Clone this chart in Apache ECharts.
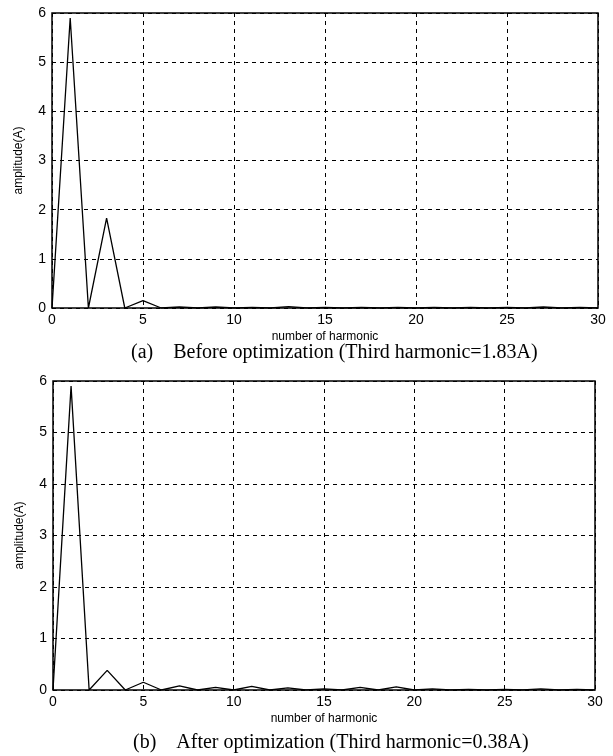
<!DOCTYPE html>
<html>
<head>
<meta charset="utf-8">
<script src="https://cdn.jsdelivr.net/npm/echarts@6/dist/echarts.min.js"></script>
<style>
html, body { margin: 0; padding: 0; background: #fff; }
#main { width: 613px; height: 756px; }
</style>
</head>
<body>
<div id="main"></div>
<script>
let harmonics = [];
for (let i = 0; i <= 30; i++) harmonics.push(i);

// amplitude of each harmonic, before optimization
let before = [0, 5.9, 0, 1.83, 0, 0.15, 0, 0.02, 0, 0.02, 0, 0.01, 0, 0.03, 0, 0.01,
    0, 0.01, 0, 0.01, 0, 0.01, 0, 0.01, 0, 0.01, 0, 0.02, 0, 0.01, 0];
// amplitude of each harmonic, after optimization
let after = [0, 5.9, 0, 0.38, 0, 0.15, 0, 0.08, 0, 0.05, 0, 0.07, 0, 0.04, 0, 0.02,
    0, 0.05, 0, 0.06, 0, 0.02, 0, 0.01, 0, 0.01, 0, 0.02, 0, 0.01, 0];

let xTicks = [0, 5, 10, 15, 20, 25, 30];
let yTicks = [0, 1, 2, 3, 4, 5, 6];
let captions = [
    '(a)    Before optimization (Third harmonic=1.83A)',
    '(b)    After optimization (Third harmonic=0.38A)'
];

function pairs(vals) {
    return harmonics.map(function (h, i) { return [h, vals[i]]; });
}

let myChart = echarts.init(document.getElementById('main'));

let gridLine = { show: true, lineStyle: { color: '#000', type: [4, 4], width: 1 } };
let label = { color: '#000', fontFamily: 'Liberation Sans', fontSize: 14 };

function xAxisOf(idx) {
    return {
        type: 'value', gridIndex: idx, min: xTicks[0], max: xTicks[xTicks.length - 1], interval: 5,
        name: 'number of harmonic', nameLocation: 'middle', nameGap: 23,
        nameTextStyle: { color: '#000', fontFamily: 'Liberation Sans', fontSize: 12 },
        axisLine: { show: false }, axisTick: { show: false },
        axisLabel: Object.assign({ margin: 5 }, label),
        splitLine: gridLine
    };
}
function yAxisOf(idx) {
    return {
        type: 'value', gridIndex: idx, min: yTicks[0], max: yTicks[yTicks.length - 1], interval: 1,
        name: 'amplitude(A)', nameLocation: 'middle', nameGap: 27, nameRotate: 90,
        nameTextStyle: { color: '#000', fontFamily: 'Liberation Sans', fontSize: 12 },
        axisLine: { show: false }, axisTick: { show: false },
        axisLabel: Object.assign({ margin: 6 }, label),
        splitLine: gridLine
    };
}

let captionStyle = { fontFamily: 'Liberation Serif', fontWeight: 'normal', fontSize: 20, color: '#000' };

myChart.setOption({
    animation: false,
    backgroundColor: '#fff',
    title: [
        { text: captions[0], left: 126, top: 338, textStyle: captionStyle },
        { text: captions[1], left: 128, top: 728, textStyle: captionStyle }
    ],
    grid: [
        { left: 52, top: 13, width: 546, height: 295, show: true, borderColor: '#000', borderWidth: 1.5 },
        { left: 53, top: 381, width: 542, height: 309, show: true, borderColor: '#000', borderWidth: 1.5 }
    ],
    xAxis: [xAxisOf(0), xAxisOf(1)],
    yAxis: [yAxisOf(0), yAxisOf(1)],
    series: [
        {
            type: 'line', xAxisIndex: 0, yAxisIndex: 0, data: pairs(before),
            showSymbol: false, lineStyle: { color: '#000', width: 1.3 }, z: 5
        },
        {
            type: 'line', xAxisIndex: 1, yAxisIndex: 1, data: pairs(after),
            showSymbol: false, lineStyle: { color: '#000', width: 1.3 }, z: 5
        }
    ]
});
window.addEventListener('resize', function () {
    myChart.resize();
});
</script>
</body>
</html>
